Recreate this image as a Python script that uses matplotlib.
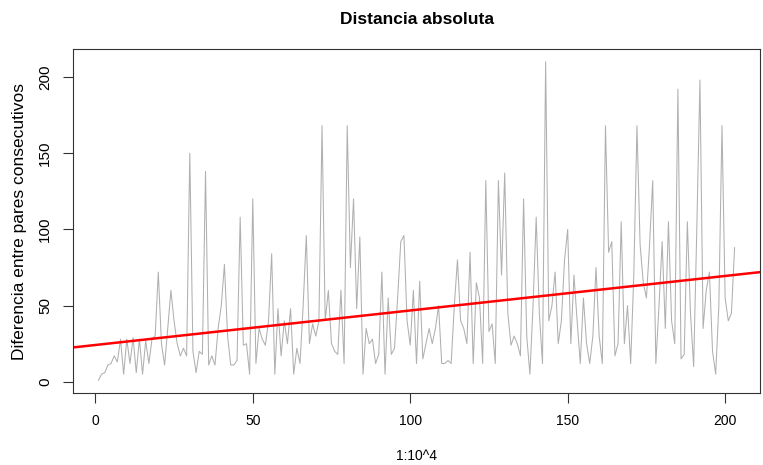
import matplotlib
matplotlib.use("Agg")
import matplotlib.pyplot as plt
import numpy as np

plt.rcParams['font.family'] = ['Liberation Sans', 'DejaVu Sans']

# distancia entre pares consecutivos
distancia = [
    1, 5, 6, 11, 12, 17, 13, 28, 5, 28,
    12, 29, 6, 28, 5, 27, 12, 28, 30, 72,
    25, 11, 35, 60, 40, 25, 17, 22, 17, 150,
    20, 6, 20, 18, 138, 11, 17, 11, 35, 50,
    77, 30, 11, 11, 14, 108, 24, 25, 5, 120,
    12, 35, 28, 24, 40, 84, 5, 48, 17, 40,
    25, 48, 5, 22, 12, 50, 96, 25, 38, 30,
    40, 168, 40, 60, 25, 20, 18, 60, 12, 168,
    75, 120, 48, 95, 5, 35, 25, 28, 12, 18,
    72, 5, 55, 18, 22, 55, 92, 96, 40, 24,
    60, 12, 66, 15, 25, 35, 25, 35, 50, 12,
    12, 14, 12, 50, 80, 40, 35, 25, 85, 12,
    65, 55, 12, 132, 33, 38, 12, 132, 70, 137,
    45, 24, 30, 25, 17, 120, 30, 5, 50, 108,
    45, 12, 210, 40, 50, 72, 25, 40, 80, 100,
    25, 70, 40, 12, 55, 25, 12, 30, 75, 30,
    12, 168, 85, 92, 17, 25, 105, 25, 50, 12,
    70, 168, 90, 65, 55, 90, 132, 12, 50, 92,
    35, 105, 40, 25, 192, 15, 18, 105, 45, 10,
    100, 198, 35, 60, 72, 20, 5, 50, 168, 55,
    40, 45, 88,
]
indice = np.arange(1, len(distancia) + 1)

x_ticks = [0, 50, 100, 150, 200]
y_ticks = [0, 50, 100, 150, 200]

fig = plt.figure(figsize=(7.63, 4.65), dpi=100)
ax = fig.add_axes([0.0957, 0.1548, 0.9004, 0.7398])

ax.plot(indice, distancia, color='#b0b0b0', lw=0.75)

# recta de regresion
pend, inter = np.polyfit(indice, distancia, 1)
ax.axline((0, inter), slope=pend, color='red', lw=1.8)

xr = indice.max() - indice.min()
ax.set_xlim(indice.min() - 0.04 * xr, indice.max() + 0.04 * xr)
yr = max(distancia) - min(distancia)
ax.set_ylim(min(distancia) - 0.04 * yr, max(distancia) + 0.04 * yr)

ax.set_xticks(x_ticks)
ax.set_yticks(y_ticks)
ax.tick_params(direction='out', length=7, width=0.8, colors='#333333',
               labelsize=10, labelcolor='black', pad=8)
for lab in ax.get_yticklabels():
    lab.set_rotation(90)
    lab.set_va('center')
    lab.set_fontsize(11)
for s in ax.spines.values():
    s.set_color('#333333')
    s.set_linewidth(0.8)

ax.set_title('Distancia absoluta', fontsize=12.5, fontweight='bold', pad=18)
ax.set_xlabel('1:10^4', fontsize=10, labelpad=15)
ax.set_ylabel('Diferencia entre pares consecutivos', fontsize=12.5, labelpad=8)

fig.savefig('out.png', dpi=100)
